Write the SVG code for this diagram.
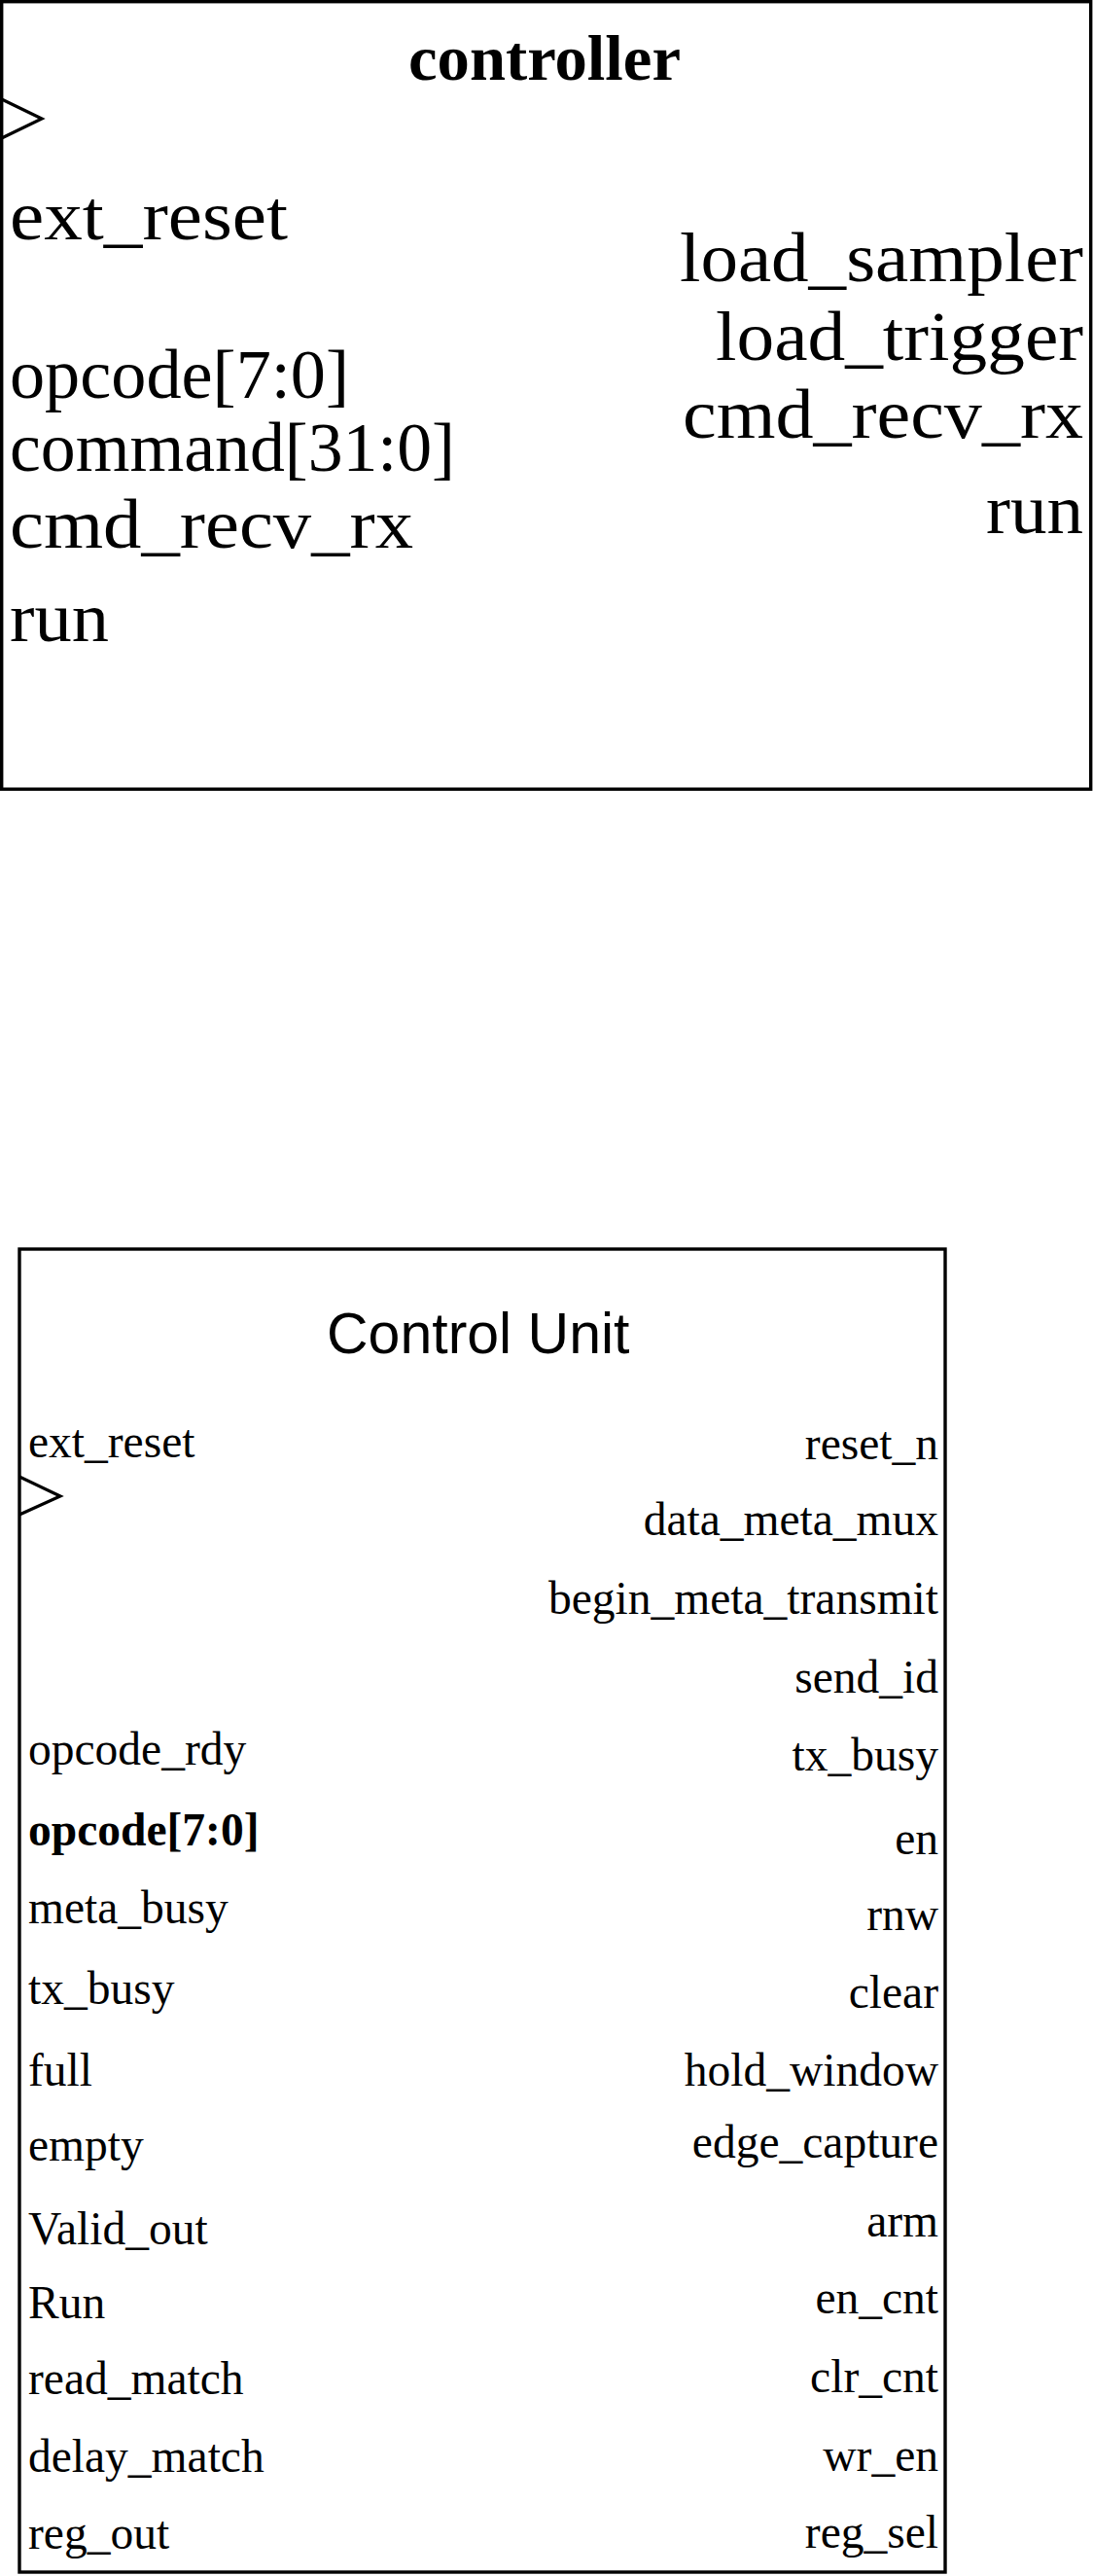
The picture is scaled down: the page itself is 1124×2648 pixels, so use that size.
<svg xmlns="http://www.w3.org/2000/svg" width="1124" height="2648" viewBox="0 0 1124 2648">
<style>
.box{fill:#fff;stroke:#000;stroke-width:3.4}
.clk{fill:none;stroke:#000;stroke-width:3.2;stroke-linejoin:miter}
.t1{font-family:"Liberation Serif","Times New Roman",serif;font-size:72px;fill:#000}
.t1b{font-family:"Liberation Serif","Times New Roman",serif;font-size:66px;font-weight:bold;fill:#000}
.t2{font-family:"Liberation Serif","Times New Roman",serif;font-size:47.5px;fill:#000}
.t2b{font-family:"Liberation Serif","Times New Roman",serif;font-size:47.5px;font-weight:bold;fill:#000}
.ts{font-family:"Liberation Sans",Arial,sans-serif;font-size:59px;fill:#000}
.r{text-anchor:end}
</style>
<rect width="1124" height="2648" fill="#fff"/>
<g id="connectors"/>
<g id="controller">
<rect class="box" x="1.7" y="1.7" width="1120" height="809.5"/>
<polyline class="clk" points="1.7,102 43,122 1.7,142"/>
<text class="t1b" x="420" y="82" textLength="280" lengthAdjust="spacingAndGlyphs">controller</text>
<text class="t1" x="10" y="246" textLength="286" lengthAdjust="spacingAndGlyphs">ext_reset</text>
<text class="t1" x="10" y="409" textLength="349" lengthAdjust="spacingAndGlyphs">opcode[7:0]</text>
<text class="t1" x="10" y="484" textLength="458" lengthAdjust="spacingAndGlyphs">command[31:0]</text>
<text class="t1" x="10" y="563" textLength="415" lengthAdjust="spacingAndGlyphs">cmd_recv_rx</text>
<text class="t1" x="10" y="659" textLength="102" lengthAdjust="spacingAndGlyphs">run</text>
<text class="t1" x="699" y="289" textLength="415" lengthAdjust="spacingAndGlyphs">load_sampler</text>
<text class="t1" x="736" y="370" textLength="378" lengthAdjust="spacingAndGlyphs">load_trigger</text>
<text class="t1" x="702" y="450" textLength="412" lengthAdjust="spacingAndGlyphs">cmd_recv_rx</text>
<text class="t1" x="1014" y="548" textLength="100" lengthAdjust="spacingAndGlyphs">run</text>
</g>
<g id="control-unit">
<rect class="box" x="20" y="1284" width="952" height="1360"/>
<polyline class="clk" points="20,1518 62,1538 20,1557"/>
<text class="ts" x="336" y="1391">Control Unit</text>
<text class="t2" x="29" y="1498">ext_reset</text>
<text class="t2" x="29" y="1814">opcode_rdy</text>
<text class="t2b" x="29" y="1897">opcode[7:0]</text>
<text class="t2" x="29" y="1977">meta_busy</text>
<text class="t2" x="29" y="2060">tx_busy</text>
<text class="t2" x="29" y="2144">full</text>
<text class="t2" x="29" y="2221">empty</text>
<text class="t2" x="29" y="2307">Valid_out</text>
<text class="t2" x="29" y="2383">Run</text>
<text class="t2" x="29" y="2461">read_match</text>
<text class="t2" x="29" y="2541">delay_match</text>
<text class="t2" x="29" y="2620">reg_out</text>
<text class="t2 r" x="965" y="1500">reset_n</text>
<text class="t2 r" x="965" y="1578">data_meta_mux</text>
<text class="t2 r" x="965" y="1659">begin_meta_transmit</text>
<text class="t2 r" x="965" y="1740">send_id</text>
<text class="t2 r" x="965" y="1820">tx_busy</text>
<text class="t2 r" x="965" y="1906">en</text>
<text class="t2 r" x="965" y="1984">rnw</text>
<text class="t2 r" x="965" y="2064">clear</text>
<text class="t2 r" x="965" y="2144">hold_window</text>
<text class="t2 r" x="965" y="2218">edge_capture</text>
<text class="t2 r" x="965" y="2299">arm</text>
<text class="t2 r" x="965" y="2378">en_cnt</text>
<text class="t2 r" x="965" y="2459">clr_cnt</text>
<text class="t2 r" x="965" y="2540">wr_en</text>
<text class="t2 r" x="965" y="2619">reg_sel</text>
</g>
</svg>
